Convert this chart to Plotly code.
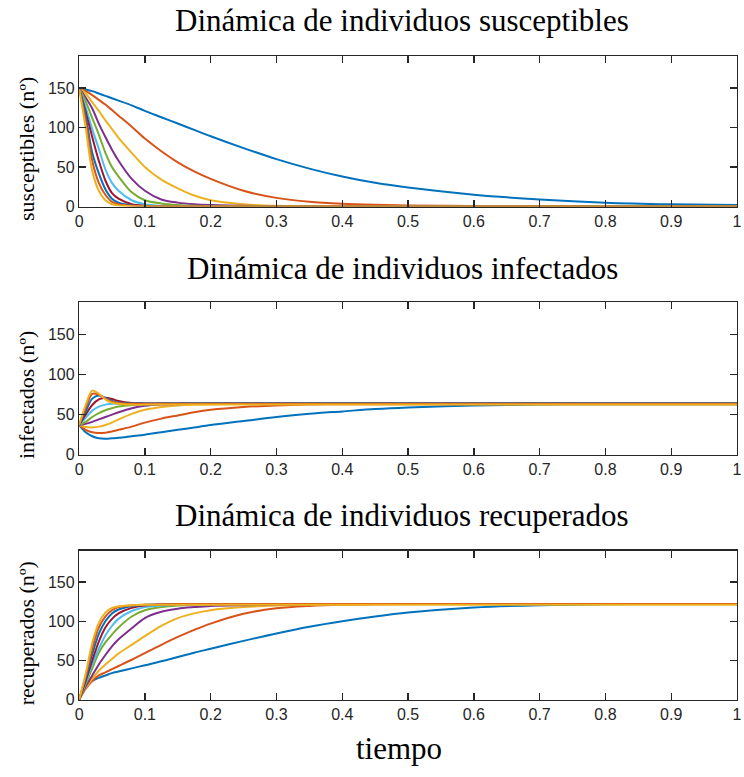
import plotly.graph_objects as go

# time grid (shared by all series)
T = [0, 0.01, 0.02, 0.03, 0.04, 0.05, 0.06, 0.08, 0.1, 0.125, 0.15, 0.175, 0.2,
     0.25, 0.3, 0.35, 0.4, 0.45, 0.5, 0.6, 0.7, 0.8, 0.9, 1.0]

colors = ["#0072BD", "#D95319", "#EDB120", "#7E2F8E", "#77AC30",
          "#4DBEEE", "#A2142F", "#0072BD", "#D95319", "#EDB120"]

# susceptibles
S1 = [150,148,146,143,140,137,134,128,121,113,105,97,89,74,60,48,38,30,24,15,9,5,3,2]
S2 = [150,146,141,135,129,122,115,101,86,70,56,44.5,35,20,11,6,3.5,2.2,1.5,0.8,0.4,0.2,0,0]
S3 = [150,143,132,121,109,98,87,68,50,34,23,14,8,3,1,0.5,0.2,0,0,0,0,0,0,0]
S4 = [150,138,124,105,88,72,58,35,20,9,5,3,2,1,0.3,0,0,0,0,0,0,0,0,0]
S5 = [150,133,112,91,68,50,38,18,8,4,2,1,0.5,0,0,0,0,0,0,0,0,0,0,0]
S6 = [150,126,98,73,47,30,20,8,3,1,0.5,0,0,0,0,0,0,0,0,0,0,0,0,0]
S7 = [150,120,88,58,33,17,10,3,1,0.3,0,0,0,0,0,0,0,0,0,0,0,0,0,0]
S8 = [150,115,68,42,22,10,5,1.5,0.5,0,0,0,0,0,0,0,0,0,0,0,0,0,0,0]
S9 = [150,108,58,30,15,6,3,1,0.3,0,0,0,0,0,0,0,0,0,0,0,0,0,0,0]
S10 = [150,100,45,20,8,3,1.5,0.5,0,0,0,0,0,0,0,0,0,0,0,0,0,0,0,0]

# infectados
I1 = [37,28,23,20.5,20,20.5,21,23,25,28,31,34,37,42,47,51,54,57,59,61.5,62.5,63,63,63]
I2 = [37,31,28,27,27.5,29,31,35,40,45,49,53,56,59.5,61.5,62.5,63,63,63,63,63,63,63,63]
I3 = [37,34.5,34,35,37,40,44,51,56,59.5,61.5,62.5,63,63.5,63.5,63.5,63.5,63.5,63.5,63.5,63.5,63.5,63.5,63.5]
I4 = [37,38.5,41,44,47,50,53,58,61,62.5,63,63.5,64,64,64,64,64,64,64,64,64,64,64,64]
I5 = [37,41,47,52,55.5,58,60,62,63,63.5,64,64,64,64,64,64,64,64,64,64,64,64,64,64]
I6 = [37,46,55,60,62.5,63.5,63.5,63.5,63.5,64,64,64,64,64,64,64,64,64,64,64,64,64,64,64]
I7 = [37,50,62,69,71,69.5,67,64.5,64,64,64,64,64,64,64,64,64,64,64,64,64,64,64,64]
I8 = [37,54,70,74,71,67,65,64,64,64,64,64,64,64,64,64,64,64,64,64,64,64,64,64]
I9 = [37,58,76,75,70,66,64.5,63.5,63.5,63.5,63.5,63.5,63.5,63.5,63.5,63.5,63.5,63.5,63.5,63.5,63.5,63.5,63.5,63.5]
I10 = [37,62,80,76,69,65,63.5,62.5,62.5,62.5,62.5,62.5,62.5,62.5,62.5,62.5,62.5,62.5,62.5,62.5,62.5,62.5,62.5,62.5]

# recuperados
R1 = [0,17,24,28,31,34,36,40,44,49,54.5,60,65,75,84.5,93,100,106,111,117.5,120.5,121.5,122,122]
R2 = [0,14,24,31,35,39,43,51,59.5,70,80,89,97,109.5,116.5,119.5,121,121.5,122,122,122,122,122,122]
R3 = [0,15,27,37,45,52,59,70,81,94,104,110,114,118,120,121,121.5,122,122,122,122,122,122,122]
R4 = [0,17,31,45,57,68,77,91,104,112,116,118,119.5,120.5,121,121.5,122,122,122,122,122,122,122,122]
R5 = [0,20,40,60,73,83,92,106,114,118,120,121,121.5,122,122,122,122,122,122,122,122,122,122,122]
R6 = [0,22,45,65,82,94,103,113,118,120,121,121.5,122,122,122,122,122,122,122,122,122,122,122,122]
R7 = [0,24,50,74,92,103,110,117,120,121,121.5,122,122,122,122,122,122,122,122,122,122,122,122,122]
R8 = [0,27,58,84,100,110,115,119,121,121.5,122,122,122,122,122,122,122,122,122,122,122,122,122,122]
R9 = [0,30,65,92,106,114,118,120,121,121.5,122,122,122,122,122,122,122,122,122,122,122,122,122,122]
R10 = [0,33,72,98,111,117,119,120.5,121,121,121,121,121,121,121,121,121,121,121,121,121,121,121,121]

S_all = [S1, S2, S3, S4, S5, S6, S7, S8, S9, S10]
I_all = [I1, I2, I3, I4, I5, I6, I7, I8, I9, I10]
R_all = [R1, R2, R3, R4, R5, R6, R7, R8, R9, R10]

x_ticks = [0, 0.1, 0.2, 0.3, 0.4, 0.5, 0.6, 0.7, 0.8, 0.9, 1]
x_tick_text = ["0", "0.1", "0.2", "0.3", "0.4", "0.5", "0.6", "0.7", "0.8", "0.9", "1"]
y_ticks = [0, 50, 100, 150]

titles = ["Dinámica de individuos susceptibles",
          "Dinámica de individuos infectados",
          "Dinámica de individuos recuperados"]
ylabels = ["susceptibles (nº)", "infectados (nº)", "recuperados (nº)"]

W, H = 744, 777
AX = "#262626"
SERIF = "Liberation Serif, Times New Roman, serif"
SANS = "Liberation Sans, Arial, sans-serif"


def px(xp):
    return xp / W


def py(yp):
    return 1 - yp / H


# panel pixel boxes (top, bottom)
boxes = [(57, 209), (306, 460), (557, 708)]
x0, x1 = 76, 742

fig = go.Figure()
for p, data in enumerate([S_all, I_all, R_all]):
    xa = "x" if p == 0 else f"x{p+1}"
    ya = "y" if p == 0 else f"y{p+1}"
    for k, vals in enumerate(data):
        fig.add_trace(go.Scatter(x=T, y=vals, mode="lines", xaxis=xa, yaxis=ya,
                                 line=dict(color=colors[k], width=2, shape="spline", smoothing=0.9),
                                 showlegend=False, hoverinfo="skip"))

layout = dict(width=W, height=H, margin=dict(l=0, r=0, t=0, b=0),
              paper_bgcolor="white", plot_bgcolor="white", showlegend=False,
              hovermode=False)
axis_common = dict(showline=True, linecolor=AX, linewidth=1.3, mirror="ticks",
                   ticks="inside", ticklen=7, tickwidth=1.3, tickcolor=AX,
                   showgrid=False, zeroline=False, ticklabeloverflow="allow",
                   tickfont=dict(family=SANS, size=16, color=AX))
for p, (top, bot) in enumerate(boxes):
    xn = "xaxis" if p == 0 else f"xaxis{p+1}"
    yn = "yaxis" if p == 0 else f"yaxis{p+1}"
    anchor_y = "y" if p == 0 else f"y{p+1}"
    anchor_x = "x" if p == 0 else f"x{p+1}"
    layout[xn] = dict(axis_common, domain=[px(x0), px(x1)], range=[0, 1],
                      tickvals=x_ticks, ticktext=x_tick_text, anchor=anchor_y)
    layout[yn] = dict(axis_common, domain=[py(bot), py(top)], range=[0, 190],
                      tickvals=y_ticks, anchor=anchor_x)
fig.update_layout(**layout)

title_y = [21, 272, 522]
ylab_y = [151, 400, 641]
for p in range(3):
    fig.add_annotation(text=titles[p], xref="paper", yref="paper",
                       x=px(403), y=py(title_y[p]), showarrow=False,
                       xanchor="center", yanchor="middle",
                       font=dict(family=SERIF, size=31, color="black"))
    fig.add_annotation(text=ylabels[p], xref="paper", yref="paper",
                       x=px(23), y=py(ylab_y[p]), showarrow=False, textangle=-90,
                       xanchor="center", yanchor="middle",
                       font=dict(family=SERIF, size=22, color="black"))
fig.add_annotation(text="tiempo", xref="paper", yref="paper",
                   x=px(400), y=py(757), showarrow=False,
                   xanchor="center", yanchor="middle",
                   font=dict(family=SERIF, size=31, color="black"))

# remove the default 8px page margin so the figure fills the window exactly
fig.write_html("out.html", config={"displayModeBar": False, "staticPlot": True},
               post_script="document.body.style.margin='0';document.body.style.overflow='hidden';")
